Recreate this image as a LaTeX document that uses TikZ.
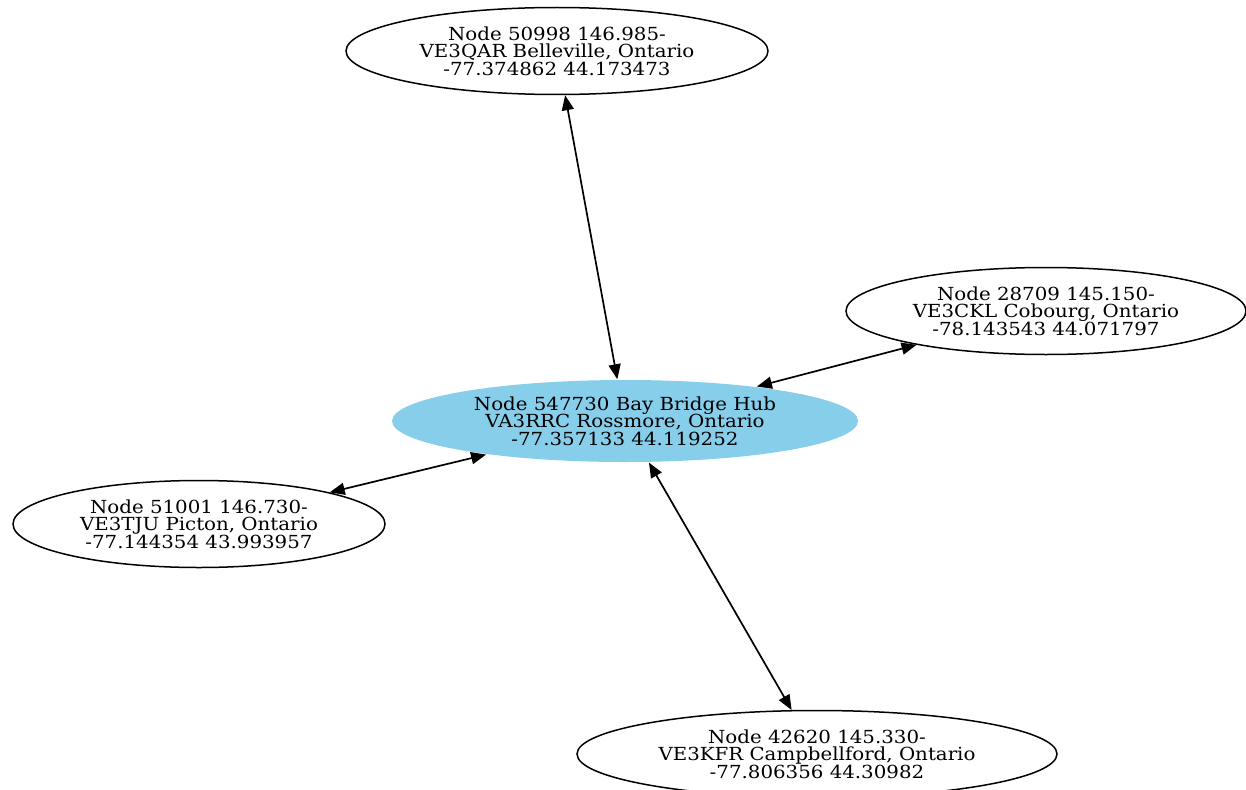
\documentclass[tikz,border=0pt]{standalone}
\usepackage{fontspec}
\setmainfont[FakeStretch=1.1]{DejaVu Serif}
\usetikzlibrary{arrows.meta,shapes.geometric}
\definecolor{hubblue}{HTML}{87CEEB}
\begin{document}
\begin{tikzpicture}[x=1pt,y=-1pt]
    \tikzstyle{every node}=[font=\fontsize{18}{17.5}\selectfont, align=center]
    \tikzstyle{site}=[ellipse, draw, line width=1.5pt, inner sep=0pt]
    \tikzstyle{link}=[line width=1.7pt, {Triangle[length=15pt,width=12pt]}-{Triangle[length=15pt,width=12pt]}]
    \def\h{87}
    \useasboundingbox (0,0) rectangle (1246,789);
    \fill[white] (0,0) rectangle (1246,789);
    % repeaters
    \node[site, fill=hubblue, draw=none, minimum width=466, minimum height=82] (hub) at (625,421)
      {Node 547730 Bay Bridge Hub\\VA3RRC Rossmore, Ontario\\-77.357133 44.119252};
    \node[site, minimum width=422, minimum height=\h] (belleville) at (557,51)
      {Node 50998 146.985-\\VE3QAR Belleville, Ontario\\-77.374862 44.173473};
    \node[site, minimum width=400, minimum height=\h] (cobourg) at (1046,311)
      {Node 28709 145.150-\\VE3CKL Cobourg, Ontario\\-78.143543 44.071797};
    \node[site, minimum width=372, minimum height=\h] (picton) at (199,524)
      {Node 51001 146.730-\\VE3TJU Picton, Ontario\\-77.144354 43.993957};
    \node[site, minimum width=480, minimum height=\h] (campbellford) at (817,754)
      {Node 42620 145.330-\\VE3KFR Campbellford, Ontario\\-77.806356 44.30982};
    % links
    \draw[link] (hub) -- (belleville);
    \draw[link] (hub) -- (cobourg);
    \draw[link] (hub) -- (picton);
    \draw[link] (hub) -- (campbellford);
\end{tikzpicture}
\end{document}
